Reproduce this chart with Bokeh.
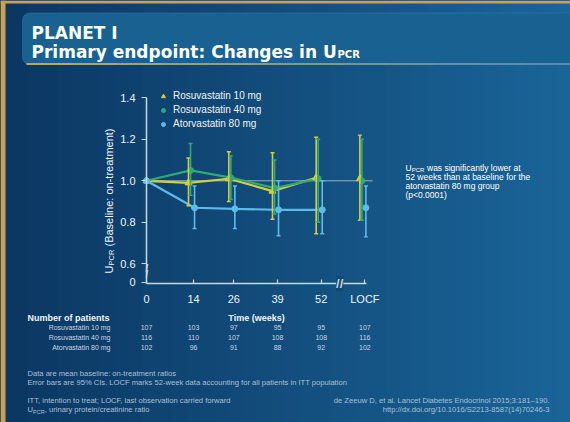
import math
from bokeh.plotting import figure
from bokeh.models import (ColumnDataSource, Whisker, TeeHead, Label, BoxAnnotation,
                          FixedTicker, PrintfTickFormatter, Legend, LegendItem,
                          GlobalInlineStyleSheet)
from bokeh.embed import file_html
from bokeh.resources import INLINE

# ---------------- data ----------------
tick_labels = ["0", "14", "26", "39", "52", "LOCF"]
tick_pos = [0, 14, 26, 39, 52, 65]
series_names = ["Rosuvastatin 10 mg", "Rosuvastatin 40 mg", "Atorvastatin 80 mg"]
r10_mean = [1.00, 0.99, 1.01, 0.95, 1.015, 1.01]
r10_lower = [None, 0.88, 0.90, 0.815, 0.745, 0.81]
r10_upper = [None, 1.11, 1.14, 1.135, 1.21, 1.22]
r40_mean = [1.00, 1.05, 1.015, 0.965, 1.01, 1.00]
r40_lower = [None, 0.93, 0.91, 0.84, 0.80, 0.81]
r40_upper = [None, 1.18, 1.12, 1.10, 1.20, 1.20]
a80_mean = [1.00, 0.87, 0.865, 0.86, 0.86, 0.87]
a80_lower = [None, 0.77, 0.77, 0.735, 0.745, 0.73]
a80_upper = [None, 0.975, 0.975, 1.00, 1.00, 0.975]
patients_r10 = [107, 103, 97, 95, 95, 107]
patients_r40 = [116, 110, 107, 108, 108, 116]
patients_a80 = [102, 96, 91, 88, 92, 102]
y_tick_values = [0.6, 0.8, 1.0, 1.2, 1.4]
reference_ratio = 1.0

# ---------------- layout constants ----------------
W, H = 570, 422
X0_PX, XSCALE = 146.0, 3.36       # page x of week 0, pixels per week
Y1_PX, YSCALE = 180.3, 207.5      # page y of ratio 1.0, pixels per unit
BREAK_ZERO = 0.51                 # axis position that stands for "0" (broken axis)
AXIS_BOTTOM = 0.505
X_BREAK = 57.5
REF_END = 67.3
offsets = [-1.5, -0.9, 0.3]
colors = ["#d6cf3c", "#34a874", "#5cbbe8"]
markers = ["triangle", "circle", "circle"]
BG = "#0d416f"
TXT = "#eef3f8"
FOOT = "#a9c0d8"
AX = "#c9d6e3"

def sx(rx):
    return rx

def sy(ry):
    return H - ry

xr = (-X0_PX / XSCALE, (W - X0_PX) / XSCALE)
yr = (1.0 - (H - Y1_PX) / YSCALE, 1.0 + Y1_PX / YSCALE)

p = figure(width=W, height=H, x_range=xr, y_range=yr,
           output_backend="svg", toolbar_location=None, min_border=0)
p.border_fill_color = BG
p.background_fill_color = BG
p.outline_line_color = None
p.xgrid.visible = False
p.ygrid.visible = False
p.stylesheets = [GlobalInlineStyleSheet(css="html,body{margin:0;padding:0;background:#0d416f;}")]

def box(l, r, t, b, color, **kw):
    p.add_layout(BoxAnnotation(left=sx(l), right=sx(r), top=sy(t), bottom=sy(b),
                               left_units="screen", right_units="screen",
                               top_units="screen", bottom_units="screen",
                               fill_color=color, fill_alpha=1,
                               line_color=kw.pop("line_color", None), level="image", **kw))

def mix(c0, c1, t):
    return "#%02x%02x%02x" % tuple(int(round(a + (b - a) * t)) for a, b in zip(c0, c1))

# background gradient
N = 40
for i in range(N):
    box(W * i / N, W * (i + 1) / N + 0.6, 0, H, mix((11, 55, 98), (26, 100, 152), i / (N - 1)))
# gold frame
box(0, 5, 0, H, "#c9a24e")
box(0, W, 0, 3, "#c9a24e")

# title box
box(22, 600, 12.5, 64, "#186190", line_color="#4f93c2", line_width=1, border_radius=7)
M = 12
for i in range(M):
    box(26 + (W - 26) * i / M, 26 + (W - 26) * (i + 1) / M + 0.6, 62.5, 64.5,
        mix((178, 170, 92), (80, 140, 180), i / (M - 1)))

# axes (drawn at fixed data locations inside the full-canvas frame)
p.xaxis.fixed_location = AXIS_BOTTOM
p.yaxis.fixed_location = 0
p.xaxis.ticker = FixedTicker(ticks=tick_pos)
p.xaxis.major_label_overrides = {k: v for k, v in zip(tick_pos, tick_labels)}
p.xaxis.bounds = (0, 65.6)
p.yaxis.ticker = FixedTicker(ticks=[BREAK_ZERO] + y_tick_values)
p.yaxis.formatter = PrintfTickFormatter(format="%.1f")
p.yaxis.major_label_overrides = {BREAK_ZERO: "0"}
p.yaxis.bounds = (AXIS_BOTTOM, 1.4)
for ax in (p.xaxis, p.yaxis):
    ax.axis_line_color = AX
    ax.axis_line_width = 1.5
    ax.major_tick_line_color = AX
    ax.major_tick_line_width = 1.2
    ax.minor_tick_line_color = None
    ax.major_label_text_color = TXT
    ax.major_label_text_font = "Liberation Sans"
    ax.major_label_text_font_size = "11px"
p.xaxis.major_tick_in = 4
p.xaxis.major_tick_out = 0
p.xaxis.major_label_standoff = 9
p.yaxis.major_tick_in = 0
p.yaxis.major_tick_out = 5
p.yaxis.major_label_standoff = 6

p.segment(x0=[0], y0=[reference_ratio], x1=[REF_END], y1=[reference_ratio],
          line_color="#93b1cb", line_width=1)

# series
means = [r10_mean, r40_mean, a80_mean]
lowers = [r10_lower, r40_lower, a80_lower]
uppers = [r10_upper, r40_upper, a80_upper]
xs_all = [[t + (offsets[k] if t > 0 else 0) for t in tick_pos] for k in range(3)]
for k in range(3):
    p.line(xs_all[k][:5], means[k][:5], line_color=colors[k], line_width=2.2)
for k in range(3):
    xs = xs_all[k]
    wsrc = ColumnDataSource(dict(base=xs[1:], lower=lowers[k][1:], upper=uppers[k][1:]))
    p.add_layout(Whisker(base="base", lower="lower", upper="upper", source=wsrc,
                         line_color=colors[k], line_width=1.6, level="glyph",
                         upper_head=TeeHead(size=4, line_color=colors[k], line_width=1.4),
                         lower_head=TeeHead(size=4, line_color=colors[k], line_width=1.4)))
scatters = []
for k in range(3):
    r = p.scatter(xs_all[k], means[k], marker=markers[k], size=7 if k == 0 else 6,
                  fill_color=colors[k], line_color=colors[k])
    scatters.append(r)

legend = Legend(items=[LegendItem(label=series_names[k], renderers=[scatters[k]]) for k in range(3)],
                location=(158, H - 129), background_fill_alpha=0, border_line_color=None,
                label_text_color=TXT, label_text_font="Liberation Sans",
                label_text_font_size="10px", glyph_width=10, glyph_height=10,
                label_height=10, label_standoff=5, spacing=3, padding=0, margin=0)
p.add_layout(legend)

def lab(text, rx, ry, size, color=TXT, font="Liberation Sans", style="normal",
        align="left", baseline="alphabetic", angle=0.0, xdata=None, bg=None):
    kw = {}
    if xdata is None:
        kw.update(x=sx(rx), x_units="screen")
    else:
        kw.update(x=xdata, x_units="data")
    if bg is not None:
        kw.update(background_fill_color=bg, background_fill_alpha=1)
    p.add_layout(Label(text=text, y=sy(ry), y_units="screen", text_font=font,
                       text_font_size=f"{size}px", text_color=color, text_font_style=style,
                       text_align=align, text_baseline=baseline, angle=angle, **kw))

# title
lab("PLANET I", 31, 32, 17, "white", font="DejaVu Sans", style="bold")
lab("Primary endpoint: Changes in U", 31, 51, 17, "white", font="DejaVu Sans", style="bold")
lab("PCR", 337, 54, 10, "white", font="DejaVu Sans", style="bold")

# y axis label (rotated)
lab("U", 108, 273, 11, angle=math.pi / 2)
lab("PCR", 110.5, 265, 7.5, angle=math.pi / 2)
lab("(Baseline: on-treatment)", 108, 246, 11, angle=math.pi / 2)

# axis breaks
lab("/", 146.5, 268, 10, AX, style="bold", align="center", baseline="middle")
lab("/", 146.5, 274, 10, AX, style="bold", align="center", baseline="middle")
lab("//", 0, 283, 13, AX, style="bold", align="center", baseline="middle", xdata=X_BREAK, bg="#104877")

# x axis title
lab("Time (weeks)", 256, 317, 9, style="bold", align="center")

# patients table
lab("Number of patients", 27, 317, 9, style="bold")
rows = [patients_r10, patients_r40, patients_a80]
for k in range(3):
    ry = 327 + 10 * k
    lab(series_names[k], 110, ry, 7, "#c8d6e4", align="right")
    for t, n in zip(tick_pos, rows[k]):
        lab(str(n), 0, ry, 7, "#c8d6e4", align="center", xdata=t)

# right annotation
lab("U", 405, 167, 8.5, "white")
lab("PCR", 411.2, 169, 6, "white")
lab("was significantly lower at", 426.5, 167, 8.5, "white")
lab("52 weeks than at baseline for the", 405, 176, 8.5, "white")
lab("atorvastatin 80 mg group", 405, 185, 8.5, "white")
lab("(p<0.0001)", 405, 194, 8.5, "white")

# footnotes
FS = 7.6
lab("Data are mean baseline: on-treatment ratios", 27, 373, FS, FOOT)
lab("Error bars are 95% CIs. LOCF marks 52-week data accounting for all patients in ITT population",
    27, 382, FS, FOOT)
lab("ITT, intention to treat; LOCF, last observation carried forward", 27, 400, FS, FOOT)
lab("U", 27, 409, FS, FOOT)
lab("PCR", 32.5, 411, 5.5, FOOT)
lab(", urinary protein/creatinine ratio", 44.3, 409, FS, FOOT)
lab("de Zeeuw D, et al. Lancet Diabetes Endocrinol 2015;3:181\u2013190.", 549, 400, FS, FOOT,
    align="right")
lab("http://dx.doi.org/10.1016/S2213-8587(14)70246-3", 549, 409, FS, FOOT, align="right")

open("out.html", "w").write(file_html(p, INLINE))
